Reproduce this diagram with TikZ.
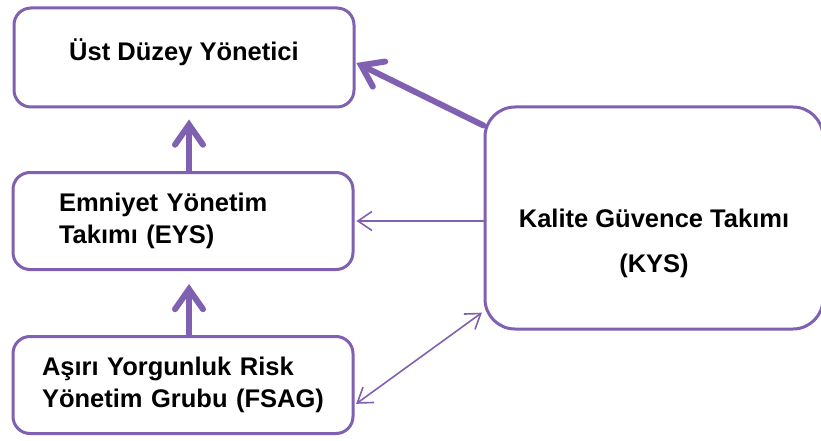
\documentclass[tikz,border=0pt]{standalone}
\usepackage{fontspec}
\setmainfont{Liberation Sans}
\usetikzlibrary{arrows.meta,positioning}

\definecolor{kysPurple}{RGB}{128,96,176}

\begin{document}
\begin{tikzpicture}[x=1pt,y=-1pt,
  font=\fontsize{25.5}{32}\selectfont\bfseries,
  unit/.style={draw=kysPurple,line width=3pt,rounded corners=17pt,
    minimum width=340pt,minimum height=97pt,inner sep=0pt},
  bigunit/.style={unit,rounded corners=30pt,minimum width=338pt,minimum height=222pt},
  boldlink/.style={draw=kysPurple,line width=6pt,line cap=round,
    -{Straight Barb[length=20pt,width=28pt,line cap=round]}},
  link/.style={draw=kysPurple,line width=1.6pt,
    -{Straight Barb[length=14pt,width=19pt]}},
  dlink/.style={link,{Straight Barb[length=14pt,width=19pt]}-{Straight Barb[length=14pt,width=19pt]}}]
\useasboundingbox (0,0) rectangle (821,441);
\node[unit,minimum height=99pt,text depth=15pt] (top) at (184,57.5) {Üst Düzey Yönetici};
\node[unit,text width=248pt,align=left] (eys) at (183,221) {Emniyet Yönetim\\Takımı (EYS)};
\node[unit,text width=282pt,align=left] (fsag) at (183,385) {Aşırı Yorgunluk Risk\\Yönetim Grubu (FSAG)};
\node[bigunit] (kys) at (654,218) {};
\node[align=center] (kysText) at ([yshift=-25pt]kys.center) {Kalite Güvence Takımı\\[13pt](KYS)};
% arrows
\draw[boldlink,shorten >=11pt] ([xshift=6pt]eys.north) -- ([xshift=6pt]eys.north |- top.south);
\draw[boldlink,shorten >=13pt] ([xshift=6pt]fsag.north) -- ([xshift=6pt]fsag.north |- eys.south);
\draw[boldlink,shorten >=1pt] ([yshift=-20pt]kys.north west) -- ([yshift=-5pt]top.east);
\draw[link,shorten >=2pt] (kys.west |- eys.east) -- (eys.east);
\draw[dlink,shorten >=2pt,shorten <=2pt] ([yshift=19pt]kys.south west) -- ([yshift=-20pt]fsag.east);
\end{tikzpicture}
\end{document}
